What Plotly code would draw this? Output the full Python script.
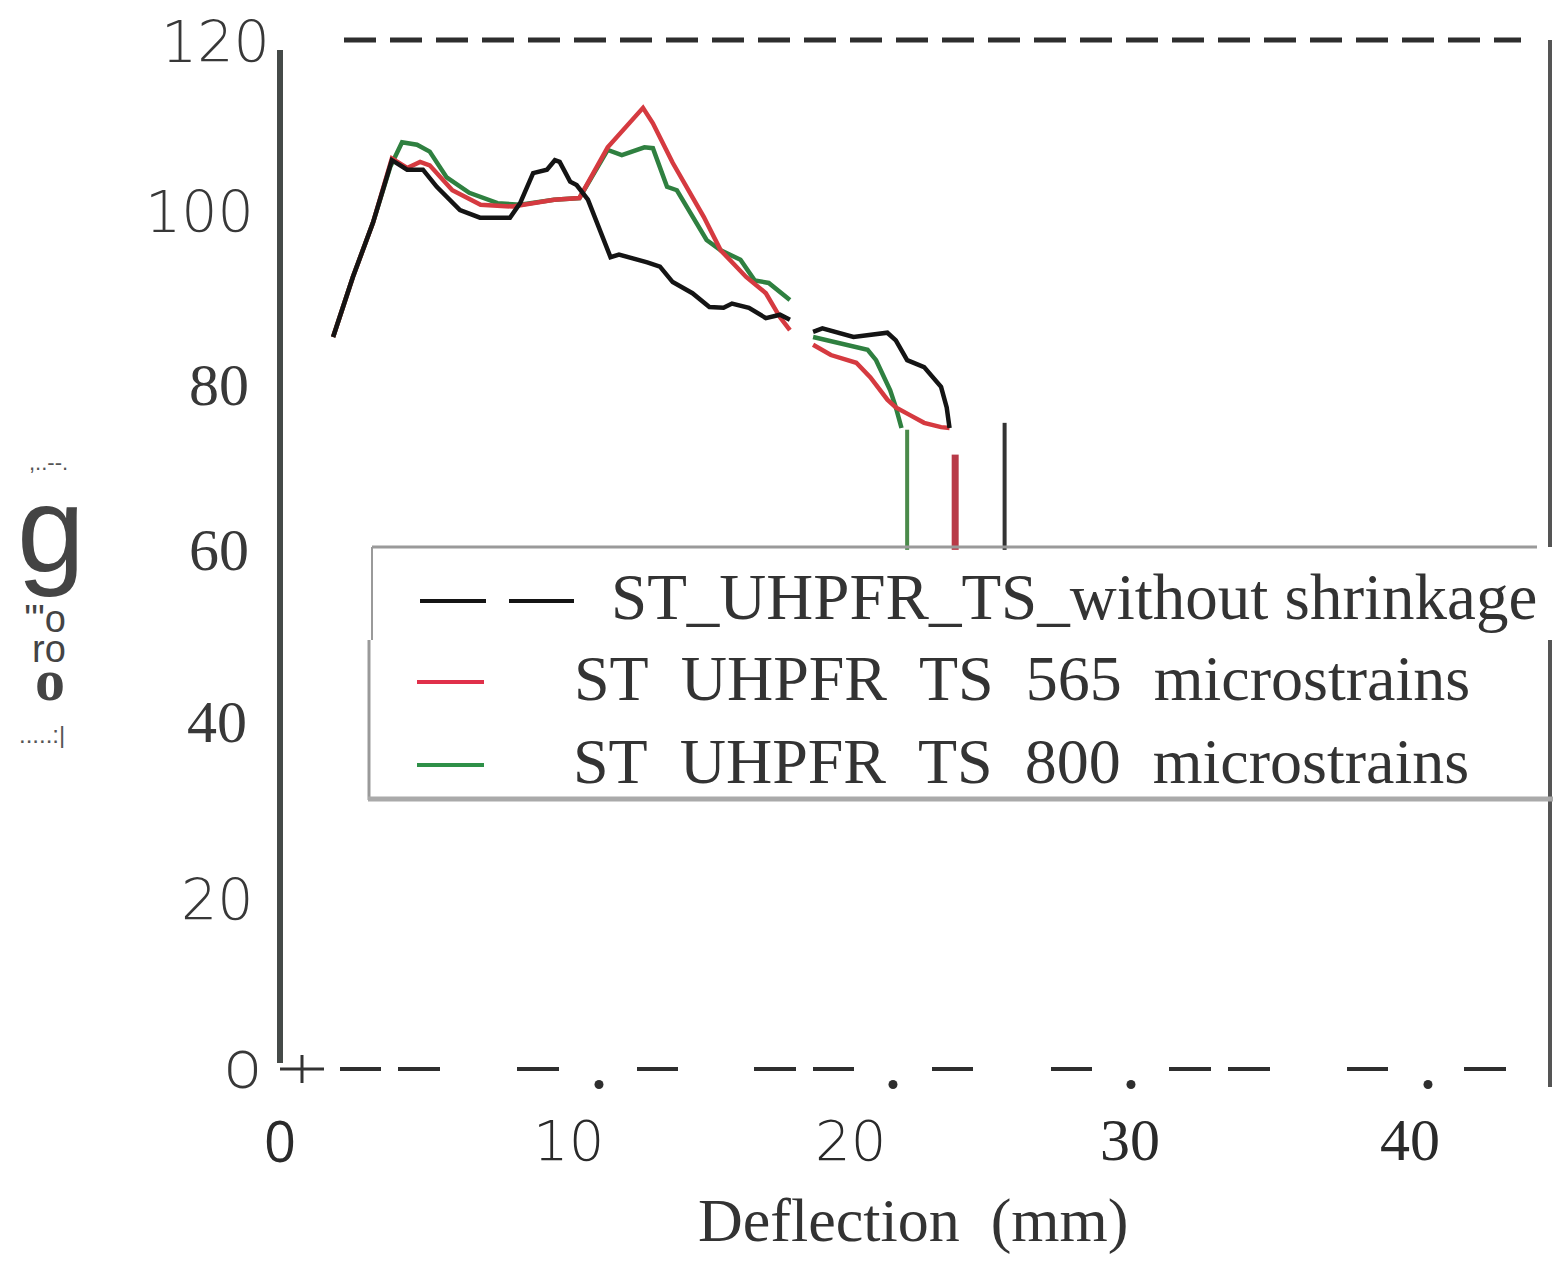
import plotly.graph_objects as go

W, H = 1563, 1283
X0, XS = 280, 28.25    # pixel of deflection 0, pixels per mm
Y0, YS = 1070, 8.583   # pixel of load 0, pixels per kN

# ---- data ----
green_x = [1.88, 2.58, 3.29, 3.9, 4.32, 4.85, 5.3, 5.9, 6.7, 7.7, 8.5, 9.7, 10.6, 11.6, 12.1,
           12.9, 13.2, 13.7, 14.05, 15.1, 15.6, 16.3, 16.8, 17.3, 18.05, None,
           18.87, 19.8, 20.8, 21.1, 21.6, 21.8, 22.0]
green_y = [85.4, 92.4, 98.7, 105.2, 108.1, 107.8, 107.0, 104.0, 102.2, 101.0, 100.8, 101.4, 101.6,
           107.2, 106.6, 107.5, 107.4, 102.9, 102.5, 96.7, 95.5, 94.4, 92.0, 91.7, 89.7, None,
           85.4, 84.7, 83.9, 82.7, 79.2, 77.2, 74.8]

red_x = [1.88, 2.58, 3.29, 3.96, 4.5, 4.96, 5.3, 6.1, 7.1, 8.25, 9.7, 10.6, 11.6, 12.85, 13.2,
         13.9, 15.0, 15.6, 16.5, 17.2, 17.7, 18.05, None,
         18.87, 19.5, 20.4, 20.9, 21.5, 21.8, 22.3, 22.8, 23.4, 23.7]
red_y = [85.4, 92.4, 98.7, 106.2, 105.1, 105.8, 105.4, 102.5, 100.8, 100.6, 101.4, 101.6, 107.5,
         112.1, 110.3, 105.7, 99.4, 95.5, 92.4, 90.5, 87.7, 86.2, None,
         84.5, 83.3, 82.4, 80.7, 78.1, 77.2, 76.3, 75.4, 74.9, 74.8]

black_x = [1.88, 2.58, 3.29, 3.96, 4.5, 5.06, 5.55, 6.37, 7.08, 8.14, 8.5, 8.96, 9.45, 9.73, 9.9,
           10.27, 10.5, 10.9, 11.7, 12.0, 13.0, 13.45, 13.9, 14.6, 15.2, 15.7, 16.0, 16.6, 17.2,
           17.7, 18.05, None,
           18.87, 19.2, 20.3, 21.5, 21.8, 22.2, 22.8, 23.4, 23.6, 23.7]
black_y = [85.4, 92.4, 98.7, 106.0, 104.9, 104.9, 102.9, 100.2, 99.3, 99.3, 101.0, 104.5, 104.9,
           106.0, 105.8, 103.5, 103.1, 101.4, 94.7, 95.0, 94.1, 93.6, 91.8, 90.5, 88.9, 88.8,
           89.3, 88.8, 87.6, 88.0, 87.4, None,
           86.0, 86.4, 85.4, 85.9, 85.0, 82.7, 81.9, 79.6, 77.2, 74.8]

# end-of-test drop markers (green, red, black)
drop_x = [22.2, 23.9, 25.65]
drop_top = [74.6, 71.7, 75.4]
drop_base = 60.6

series_names = ["ST_UHPFR_TS_without shrinkage",
                "ST\u00a0\u00a0UHPFR\u00a0\u00a0TS\u00a0\u00a0565\u00a0\u00a0microstrains",
                "ST\u00a0\u00a0UHPFR\u00a0\u00a0TS\u00a0\u00a0800\u00a0\u00a0microstrains"]

y_ticks = [0, 20, 40, 60, 80, 100, 120]
y_tick_text = ["O", "20", "40", "60", "80", "100", "120"]
x_ticks = [0, 10, 20, 30, 40]
x_tick_text = ["0", "10", "20", "30", "40"]

GREEN, RED, BLACK = "#2f8040", "#d53a40", "#141414"


def px(x):
    return x / W


def py(y):
    return 1 - y / H


fig = go.Figure()
for xs, ys, c in [(green_x, green_y, GREEN), (red_x, red_y, RED), (black_x, black_y, BLACK)]:
    fig.add_trace(go.Scatter(x=xs, y=ys, mode="lines", line=dict(color=c, width=4.5),
                             connectgaps=False, hoverinfo="skip", showlegend=False))

drop_cols = ["#4a8a4a", "#b83a48", "#333333"]
drop_w = [4, 7, 4]
for xv, top, c, w in zip(drop_x, drop_top, drop_cols, drop_w):
    fig.add_trace(go.Scatter(x=[xv, xv], y=[drop_base, top], mode="lines",
                             line=dict(color=c, width=w), hoverinfo="skip", showlegend=False))

shapes = []


def seg(x0, y0, x1, y1, color, width, dash=None):
    line = dict(color=color, width=width)
    if dash:
        line["dash"] = dash
    shapes.append(dict(type="line", xref="paper", yref="paper",
                       x0=px(x0), y0=py(y0), x1=px(x1), y1=py(y1), line=line))


# frame pieces
seg(280, 50, 280, 1063, "#454a48", 6)
seg(1550, 40, 1550, 547, "#555555", 4)
seg(1550, 640, 1550, 1087, "#555555", 4)
seg(344, 40, 1521, 40, "#2e2e2e", 5, "32px,14px")
seg(340, 1069, 1508, 1069, "#2e2e2e", 4,
    "41px,17px,42px,77px,42px,78px,41px,76px,42px,17px,41px,78px,41px,78px,41px,77px,"
    "42px,17px,42px,77px,41px,76px,42px")
seg(280, 1069, 324, 1069, "#333333", 3)
seg(302, 1055, 302, 1083, "#333333", 3)
for dx in [599, 893, 1131, 1428]:
    shapes.append(dict(type="circle", xref="paper", yref="paper",
                       x0=px(dx - 4.5), x1=px(dx + 4.5), y0=py(1080), y1=py(1089),
                       fillcolor="#2e2e2e", line=dict(width=0)))

# legend box
seg(372, 547, 1537, 547, "#9a9a9a", 3)
seg(372, 547, 372, 640, "#9a9a9a", 2)
seg(369, 640, 369, 800, "#9a9a9a", 3)
seg(368, 799, 1553, 799, "#aaaaaa", 5)
seg(420, 601, 486, 601, BLACK, 4)
seg(509, 601, 574, 601, BLACK, 4)
seg(417, 682, 484, 682, "#e0304a", 4)
seg(417, 765, 484, 765, "#2e9048", 4)

ann = []


def label(text, x, y, size, family, color="#333333", anchor="center", weight=None):
    f = dict(family=family, size=size, color=color)
    if weight:
        f["weight"] = weight
    ann.append(dict(text=text, xref="paper", yref="paper", x=px(x), y=py(y),
                    xanchor=anchor, yanchor="middle", showarrow=False, font=f))


THIN = "DejaVu Sans"
SERIF = "Liberation Serif"

# y tick labels (mixed fonts as in the scan)
y_fonts = {"O": ("Roboto", 52, 300), "20": (THIN, 57, 200), "40": (SERIF, 60, None),
           "60": (SERIF, 60, None), "80": (SERIF, 60, None), "100": (THIN, 57, 200),
           "120": (THIN, 57, 200)}
y_right = {"O": 262, "20": 256, "40": 249, "60": 251, "80": 251, "100": 256, "120": 272}
y_adj = {"O": 0, "20": 2, "40": -5, "60": -5, "80": 2, "100": 0, "120": 2}
for t, txt in zip(y_ticks, y_tick_text):
    fam, sz, wt = y_fonts[txt]
    label(txt, y_right[txt], Y0 - t * YS + y_adj[txt], sz, fam, "#383838", "right", wt)

# x tick labels
x_fonts = {"0": ("Open Sans", 56, None), "10": (THIN, 56, 200), "20": (THIN, 56, 200),
           "30": (SERIF, 60, None), "40": (SERIF, 60, None)}
x_adj = {"0": 0, "10": 6, "20": 5, "30": 2, "40": 0}
for t, txt in zip(x_ticks, x_tick_text):
    fam, sz, wt = x_fonts[txt]
    label(txt, X0 + t * XS + x_adj[txt], 1140, sz, fam, "#2a2a2a", weight=wt)

label("Deflection\u00a0\u00a0(mm)", 913, 1220, 62, SERIF, "#333333")

# garbled y-axis title fragments
label(",..--.", 48, 462, 22, "Liberation Sans", "#555555")
label("g", 51, 530, 122, "Liberation Sans", "#444444")
label("'\"o", 45, 619, 38, "Liberation Sans", "#444444")
label("ro", 49, 649, 38, "Liberation Sans", "#444444")
label("<b>o</b>", 50, 680, 60, SERIF, "#444444")
label(".....:|", 42, 734, 24, "Liberation Sans", "#555555")

# legend entries
label(series_names[0], 609, 597, 65, SERIF, "#333333", "left")
label(series_names[1], 572, 678, 64, SERIF, "#333333", "left")
label(series_names[2], 571, 761, 64, SERIF, "#333333", "left")

fig.update_layout(
    width=W, height=H,
    margin=dict(l=0, r=0, t=0, b=0),
    paper_bgcolor="white", plot_bgcolor="white",
    xaxis=dict(range=[-X0 / XS, (W - X0) / XS], visible=False, fixedrange=True),
    yaxis=dict(range=[(Y0 - H) / YS, Y0 / YS], visible=False, fixedrange=True),
    shapes=shapes, annotations=ann, showlegend=False,
)

fig.write_html("out.html", config={"displayModeBar": False},
               post_script="document.body.style.margin='0';")
